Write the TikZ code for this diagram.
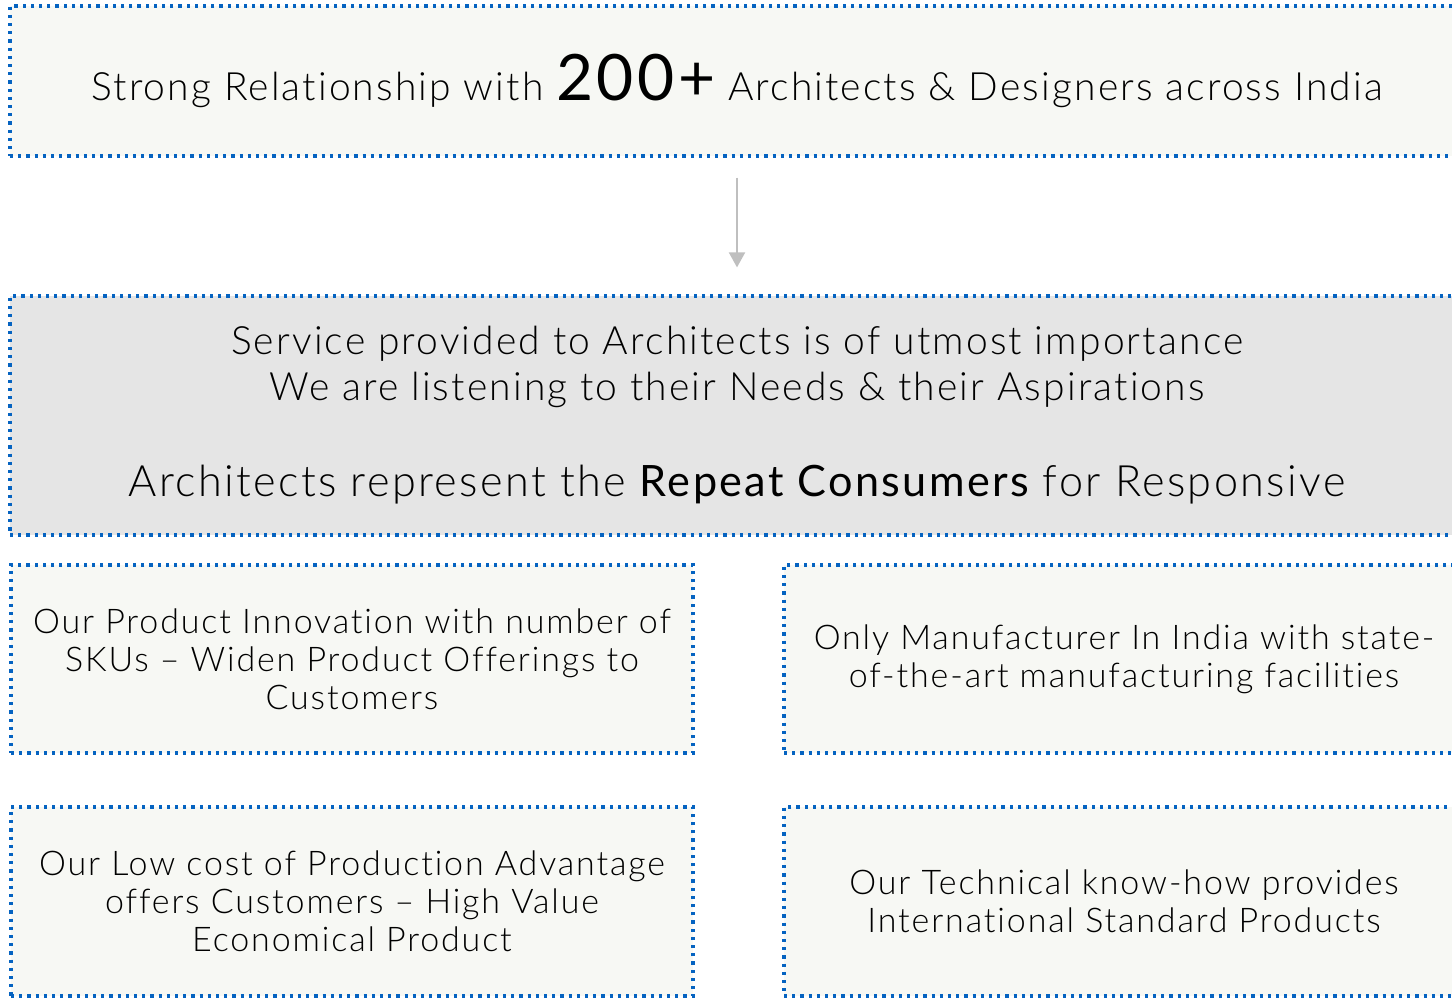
\documentclass[tikz,border=0pt]{standalone}
\usepackage{fontspec}
\setmainfont{Lato Light}[LetterSpace=5.5,RawFeature={-liga;-clig;-calt;-dlig}]
\newfontfamily\strongfont{Lato}[LetterSpace=5.5,RawFeature={-liga;-clig;-calt;-dlig}]
\usetikzlibrary{arrows.meta}
\definecolor{boxblue}{HTML}{0563C1}
\definecolor{boxfill}{HTML}{F7F8F4}
\definecolor{boxgrey}{HTML}{E5E5E5}
\definecolor{arrowgrey}{HTML}{BFBFBF}
\tikzset{
    dotbox/.style={draw=boxblue,line width=1.6pt,dash pattern=on 1.6pt off 2.5pt,inner sep=0pt,align=center,text=black},
    infobox/.style={dotbox,fill=boxfill},
    greybox/.style={dotbox,fill=boxgrey},
    flow/.style={-{Triangle[width=8pt,length=7.5pt]},draw=arrowgrey,line width=1pt},
}
\newcommand{\toptext}{\fontsize{19.5}{23}\selectfont}
\newcommand{\smalltext}{\fontsize{17}{19}\selectfont}

\begin{document}
\begin{tikzpicture}[x=0.5pt,y=-0.5pt]
\clip (0,0) rectangle (1452,997);
\node (box200) at (737,81) [infobox,minimum width=727pt,minimum height=75pt,font=\toptext] {Strong Relationship with {\strongfont\fontsize{32}{36}\selectfont 200+} Architects \& Designers across India};

\node (service) at (737,415.5) [greybox,minimum width=727pt,minimum height=119.5pt,font=\toptext] {Service provided to Architects is of utmost importance\\
We are listening to their Needs \& their Aspirations\\[25pt]
{\fontsize{21.6}{26}\selectfont Architects represent the {\strongfont Repeat Consumers} for Responsive}};

\draw[flow,shorten <=10pt,shorten >=13.5pt] (box200.south) -- (service.north);

\node (innovation) at (352,659) [infobox,minimum width=341pt,minimum height=94pt,font=\smalltext] {Our Product Innovation with number of\\ SKUs -- Widen Product Offerings to\\ Customers};
\node (manufacturer) at (1124,659) [infobox,minimum width=340pt,minimum height=94pt,font=\smalltext] {Only Manufacturer In India with state-\\ of-the-art manufacturing facilities};

\node (lowcost) at (352,901.5) [infobox,minimum width=341pt,minimum height=94.5pt,font=\smalltext] {Our Low cost of Production Advantage\\ offers Customers -- High Value\\ Economical Product};
\node (technical) at (1124,901.5) [infobox,minimum width=340pt,minimum height=94.5pt,font=\smalltext] {Our Technical know-how provides\\ International Standard Products};

\end{tikzpicture}
\end{document}
